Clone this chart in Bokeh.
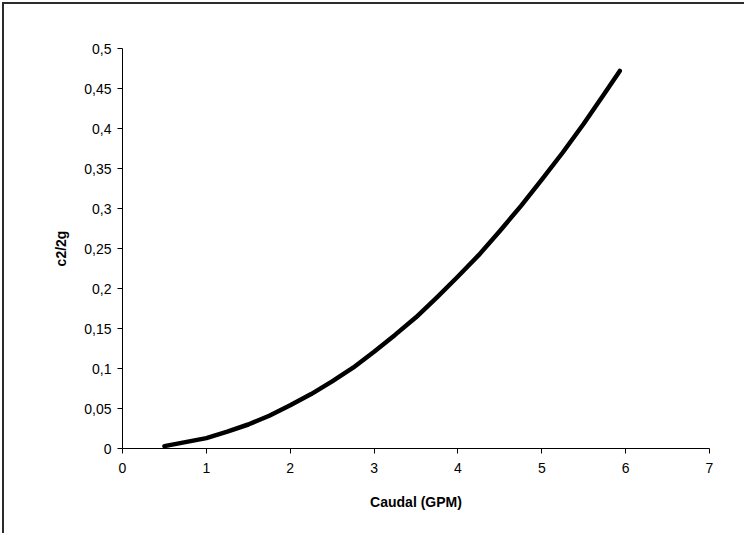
from bokeh.plotting import figure
from bokeh.models import FixedTicker, Range1d
from bokeh.embed import file_html
from bokeh.resources import INLINE

# Data
caudal_gpm = [0.5, 0.75, 1.0, 1.25, 1.5, 1.75, 2.0, 2.25, 2.5, 2.75, 3.0, 3.25,
              3.5, 3.75, 4.0, 4.25, 4.5, 4.75, 5.0, 5.25, 5.5, 5.75, 5.93]
c2_2g = [0.003, 0.008, 0.013, 0.021, 0.030, 0.041, 0.054, 0.068, 0.084, 0.101, 0.121, 0.142,
         0.164, 0.189, 0.215, 0.242, 0.272, 0.303, 0.336, 0.370, 0.406, 0.444, 0.472]

x_ticks = [0, 1, 2, 3, 4, 5, 6, 7]
x_tick_labels = ["0", "1", "2", "3", "4", "5", "6", "7"]
y_ticks = [0, 0.05, 0.1, 0.15, 0.2, 0.25, 0.3, 0.35, 0.4, 0.45, 0.5]
y_tick_labels = ["0", "0,05", "0,1", "0,15", "0,2", "0,25", "0,3", "0,35", "0,4", "0,45", "0,5"]

FONT = "Liberation Sans"

p = figure(width=742, height=531, output_backend="svg", toolbar_location=None,
           x_range=Range1d(0, 7), y_range=Range1d(0, 0.5),
           min_border_left=118, min_border_right=37, min_border_top=44, min_border_bottom=87,
           background_fill_color="white", border_fill_color="white")
p.styles = {"margin-left": "2px", "margin-top": "2px",
            "border-left": "2px solid #2b2b2b", "border-top": "2px solid #2b2b2b"}
p.outline_line_color = None
p.xgrid.visible = False
p.ygrid.visible = False

p.line(caudal_gpm, c2_2g, line_color="black", line_width=4.5, line_cap="round", line_join="round")

for ax in (p.xaxis[0], p.yaxis[0]):
    ax.axis_line_color = "black"
    ax.axis_line_width = 1
    ax.major_tick_line_color = "black"
    ax.major_tick_in = 0
    ax.major_tick_out = 5
    ax.minor_tick_line_color = None
    ax.major_label_text_font = FONT
    ax.major_label_text_font_size = "14px"
    ax.major_label_text_color = "black"
    ax.axis_label_text_font = FONT
    ax.axis_label_text_font_size = "14px"
    ax.axis_label_text_font_style = "bold"
    ax.axis_label_text_color = "black"

p.xaxis.ticker = FixedTicker(ticks=x_ticks)
p.xaxis.major_label_overrides = {t: l for t, l in zip(x_ticks, x_tick_labels)}
p.yaxis.ticker = FixedTicker(ticks=y_ticks)
p.yaxis.major_label_overrides = {t: l for t, l in zip(y_ticks, y_tick_labels)}

p.xaxis.axis_label = "Caudal (GPM)"
p.yaxis.axis_label = "c2/2g"
p.xaxis.major_label_standoff = 9
p.yaxis.major_label_standoff = 6
p.xaxis.axis_label_standoff = 18
p.yaxis.axis_label_standoff = 12

open("out.html", "w").write(file_html(p, INLINE))
